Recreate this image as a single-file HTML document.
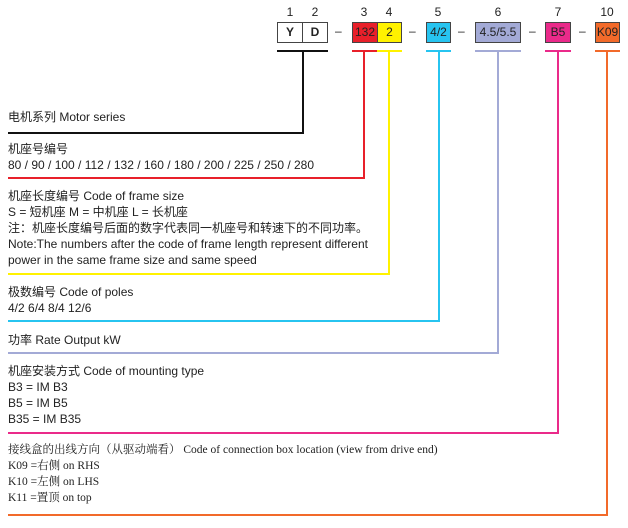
<!DOCTYPE html>
<html><head><meta charset="utf-8"><style>
body{margin:0;width:628px;height:528px;background:#fff;position:relative;overflow:hidden;font-family:"Liberation Sans","Noto Sans CJK SC",sans-serif;color:#222}
.t{position:absolute;left:8px;font-size:12px;line-height:16px;white-space:nowrap}
.s{font-family:"Liberation Serif","Noto Serif CJK SC",serif;font-size:11.5px}
.b{position:absolute;box-sizing:border-box;border:1px solid #444;height:21px;top:22px;font-size:12px;text-align:center;line-height:19px}
.n{position:absolute;top:5px;font-size:12px;width:20px;text-align:center}
.d{position:absolute;top:24px;font-size:12px}
.l{position:absolute}
</style></head><body>
<div class="n" style="left:280px">1</div><div class="n" style="left:305px">2</div>
<div class="n" style="left:354px">3</div><div class="n" style="left:379px">4</div>
<div class="n" style="left:428px">5</div><div class="n" style="left:488px">6</div>
<div class="n" style="left:548px">7</div><div class="n" style="left:597px">10</div>
<div class="b" style="left:277px;width:26px;background:#fff;font-weight:bold">Y</div>
<div class="b" style="left:302px;width:26px;background:#fff;font-weight:bold">D</div>
<div class="d" style="left:335px">–</div>
<div class="b" style="left:352px;width:26px;background:#e8202a">132</div>
<div class="b" style="left:377px;width:25px;background:#fff200">2</div>
<div class="d" style="left:409px">–</div>
<div class="b" style="left:426px;width:25px;background:#27c4f0">4/2</div>
<div class="d" style="left:458px">–</div>
<div class="b" style="left:475px;width:46px;background:#a3aad6">4.5/5.5</div>
<div class="d" style="left:529px">–</div>
<div class="b" style="left:545px;width:26px;background:#ea2a8a">B5</div>
<div class="d" style="left:579px">–</div>
<div class="b" style="left:595px;width:25px;background:#f26a2a">K09</div>
<div class="l" style="left:277px;top:50px;width:51px;height:2px;background:#111"></div>
<div class="l" style="left:302px;top:50px;width:2px;height:84px;background:#111"></div>
<div class="l" style="left:8px;top:132px;width:296px;height:2px;background:#111"></div>
<div class="l" style="left:352px;top:50px;width:25px;height:2px;background:#e8202a"></div>
<div class="l" style="left:363px;top:50px;width:2px;height:129px;background:#e8202a"></div>
<div class="l" style="left:8px;top:177px;width:357px;height:2px;background:#e8202a"></div>
<div class="l" style="left:377px;top:50px;width:25px;height:2px;background:#fff200"></div>
<div class="l" style="left:388px;top:50px;width:2px;height:225px;background:#fff200"></div>
<div class="l" style="left:8px;top:273px;width:382px;height:2px;background:#fff200"></div>
<div class="l" style="left:426px;top:50px;width:25px;height:2px;background:#27c4f0"></div>
<div class="l" style="left:438px;top:50px;width:2px;height:272px;background:#27c4f0"></div>
<div class="l" style="left:8px;top:320px;width:432px;height:2px;background:#27c4f0"></div>
<div class="l" style="left:475px;top:50px;width:46px;height:2px;background:#a3aad6"></div>
<div class="l" style="left:497px;top:50px;width:2px;height:304px;background:#a3aad6"></div>
<div class="l" style="left:8px;top:352px;width:491px;height:2px;background:#a3aad6"></div>
<div class="l" style="left:545px;top:50px;width:26px;height:2px;background:#ea2a8a"></div>
<div class="l" style="left:557px;top:50px;width:2px;height:384px;background:#ea2a8a"></div>
<div class="l" style="left:8px;top:432px;width:551px;height:2px;background:#ea2a8a"></div>
<div class="l" style="left:595px;top:50px;width:25px;height:2px;background:#f26a2a"></div>
<div class="l" style="left:606px;top:50px;width:2px;height:466px;background:#f26a2a"></div>
<div class="l" style="left:8px;top:514px;width:600px;height:2px;background:#f26a2a"></div>
<div class="t" style="top:109px">电机系列 Motor series</div>
<div class="t" style="top:141px">机座号编号<br>80 / 90 / 100 / 112 / 132 / 160 / 180 / 200 / 225 / 250 / 280</div>
<div class="t" style="top:188px">机座长度编号 Code of frame size<br>S = 短机座 M = 中机座 L = 长机座<br>注：机座长度编号后面的数字代表同一机座号和转速下的不同功率。<br>Note:The numbers after the code of frame length represent different<br>power in the same frame size and same speed</div>
<div class="t" style="top:284px">极数编号 Code of poles<br>4/2 6/4 8/4 12/6</div>
<div class="t" style="top:332px">功率 Rate Output kW</div>
<div class="t" style="top:363px">机座安装方式 Code of mounting type<br>B3 = IM B3<br>B5 = IM B5<br>B35 = IM B35</div>
<div class="t s" style="top:442px">接线盒的出线方向（从驱动端看） Code of connection box location (view from drive end)<br>K09 =右侧 on RHS<br>K10 =左侧 on LHS<br>K11 =置顶 on top</div>
</body></html>
